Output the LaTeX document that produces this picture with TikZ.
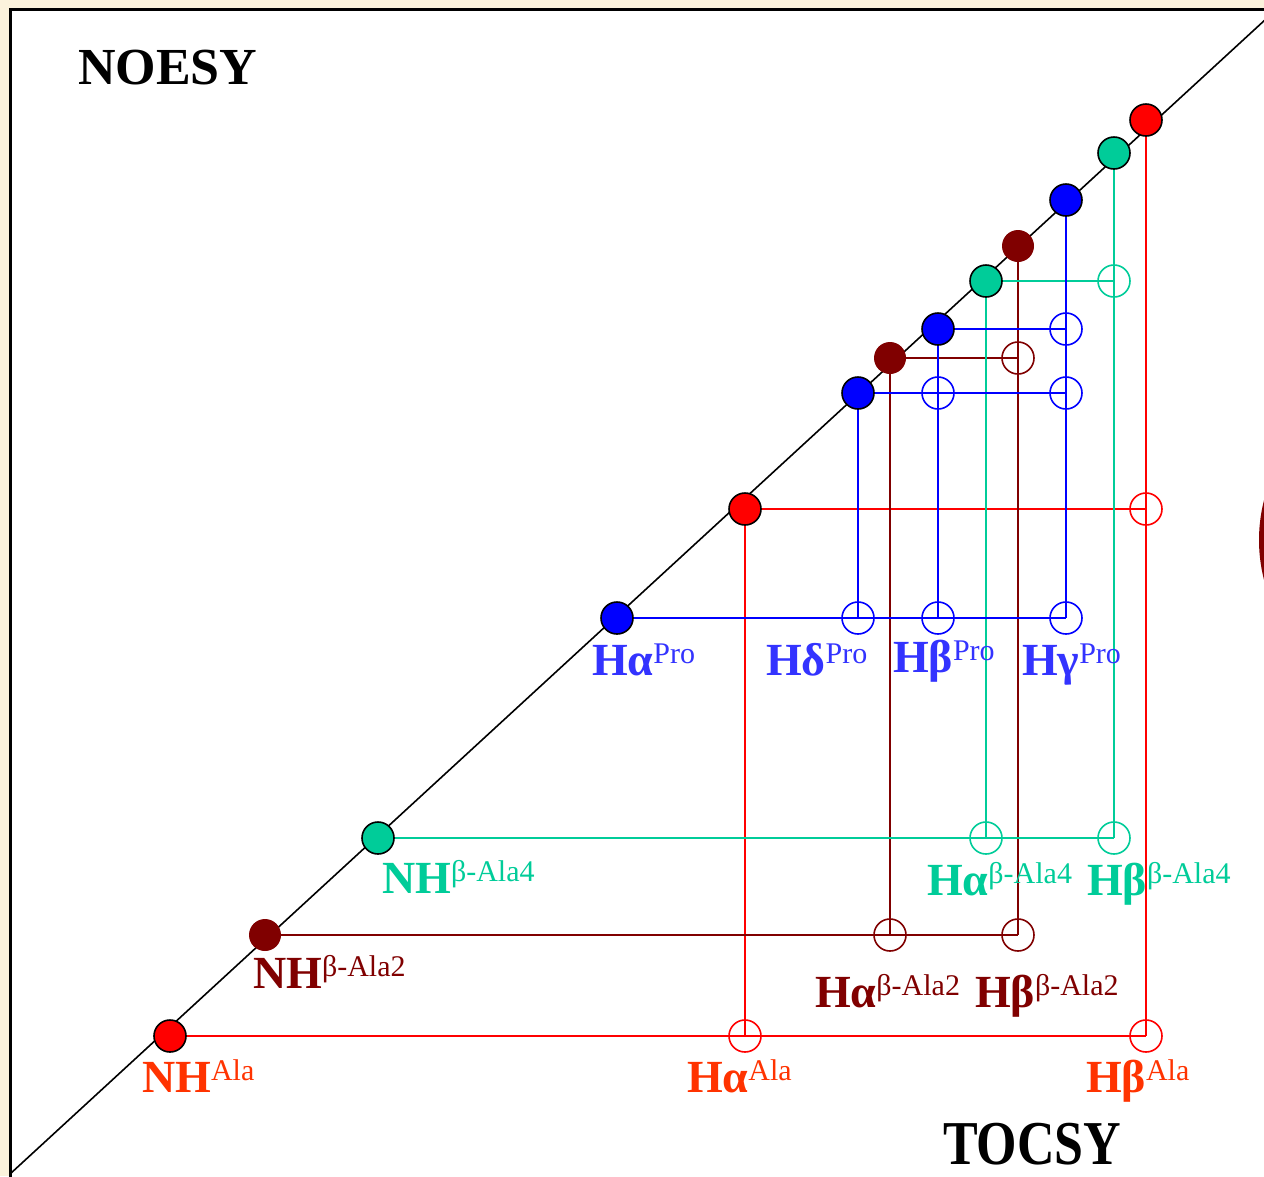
\documentclass[tikz,border=0pt]{standalone}
\usepackage{fontspec}
\setmainfont{Liberation Serif}
\definecolor{cream}{RGB}{251,242,220}
\definecolor{rline}{RGB}{255,0,0}
\definecolor{rlab}{RGB}{255,51,0}
\definecolor{dkred}{RGB}{128,0,0}
\definecolor{grn}{RGB}{0,204,153}
\definecolor{bline}{RGB}{0,0,255}
\definecolor{blab}{RGB}{51,51,255}
\newcommand\lbl[2]{{\fontsize{46}{46}\selectfont\bfseries #1}\raisebox{12pt}{\fontsize{30}{30}\selectfont #2}}
\tikzset{
  dotb/.style={circle,draw=black,line width=1.6pt,minimum size=32pt,inner sep=0pt},
  dotn/.style={circle,minimum size=32pt,inner sep=0pt},
  peak/.style={circle,line width=1.6pt,minimum size=32pt,inner sep=0pt},
  conn/.style={line width=1.8pt},
  lab/.style={anchor=base west,inner sep=0pt,outer sep=0pt},
  title/.style={anchor=base west,inner sep=0pt,font=\fontsize{52}{52}\selectfont\bfseries}
}
\begin{document}
\begin{tikzpicture}[x=1pt,y=-1pt]
\useasboundingbox (0,0) rectangle (1264,1176);
\clip (0,0) rectangle (1264,1176);
\fill[cream] (0,0) rectangle (1264,1176);
\draw[line width=3pt,fill=white] (10,9) rectangle (1320,1230);
\fill[dkred] (1419,540) circle (160);
% diagonal
\coordinate (dl) at (10,1174);
\coordinate (dr) at (1266,19);
\draw[line width=1.6pt] (dl) -- (dr);
% dot positions
\coordinate (nhA) at (170,1036);
\coordinate (nh2) at (265,935);
\coordinate (nh4) at (378,838);
\coordinate (haP) at (617,618);
\coordinate (haA) at (745,509);
\coordinate (hdP) at (858,393);
\coordinate (ha2) at (890,358);
\coordinate (hbP) at (938,329);
\coordinate (ha4) at (986,281);
\coordinate (hb2) at (1018,246);
\coordinate (hgP) at (1066,200);
\coordinate (hb4) at (1114,153);
\coordinate (hbA) at (1146,120);
% peak positions
\coordinate (pA1) at (745,1036);
\coordinate (pA2) at (1146,1036);
\coordinate (pA3) at (1146,509);
\coordinate (p21) at (890,935);
\coordinate (p22) at (1018,935);
\coordinate (p23) at (1018,358);
\coordinate (p41) at (986,838);
\coordinate (p42) at (1114,838);
\coordinate (p43) at (1114,281);
\coordinate (pP1) at (858,618);
\coordinate (pP2) at (938,618);
\coordinate (pP3) at (1066,618);
\coordinate (pP4) at (938,393);
\coordinate (pP5) at (1066,393);
\coordinate (pP6) at (1066,329);
% connectors
\draw[conn,rline] (nhA) -- (pA2) (haA) -- (pA1) (haA) -- (pA3) (hbA) -- (pA2);
\draw[conn,dkred] (nh2) -- (p22) (ha2) -- (p21) (ha2) -- (p23) (hb2) -- (p22);
\draw[conn,grn] (nh4) -- (p42) (ha4) -- (p41) (ha4) -- (p43) (hb4) -- (p42);
\draw[conn,bline] (haP) -- (pP3) (hdP) -- (pP1) (hdP) -- (pP5) (hbP) -- (pP2) (hbP) -- (pP6) (hgP) -- (pP3);
% peaks
\foreach \p in {pA1,pA2,pA3} \node[peak,draw=rline] (n\p) at (\p) {};
\foreach \p in {p21,p22,p23} \node[peak,draw=dkred] (n\p) at (\p) {};
\foreach \p in {p41,p42,p43} \node[peak,draw=grn] (n\p) at (\p) {};
\foreach \p in {pP1,pP2,pP3,pP4,pP5,pP6} \node[peak,draw=bline] (n\p) at (\p) {};
% dots
\foreach \p in {nhA,haA,hbA} \node[dotb,fill=rline] (n\p) at (\p) {};
\foreach \p in {nh2,ha2,hb2} \node[dotn,fill=dkred] (n\p) at (\p) {};
\foreach \p in {nh4,ha4,hb4} \node[dotb,fill=grn] (n\p) at (\p) {};
\foreach \p in {haP,hdP,hbP,hgP} \node[dotb,fill=bline] (n\p) at (\p) {};
% labels
\node[lab,text=rlab] (lnhA) at (142,1092) {\lbl{NH}{Ala}};
\node[lab,text=rlab] (lhaA) at (687,1092) {\lbl{Hα}{Ala}};
\node[lab,text=rlab] (lhbA) at (1086,1092) {\lbl{Hβ}{Ala}};
\node[lab,text=dkred] (lnh2) at (253,988) {\lbl{NH}{β-Ala2}};
\node[lab,text=dkred] (lha2) at (815,1007) {\lbl{Hα}{β-Ala2}};
\node[lab,text=dkred] (lhb2) at (975,1007) {\lbl{Hβ}{β-Ala2}};
\node[lab,text=grn] (lnh4) at (382,893) {\lbl{NH}{β-Ala4}};
\node[lab,text=grn] (lha4) at (927,895) {\lbl{Hα}{β-Ala4}};
\node[lab,text=grn] (lhb4) at (1087,895) {\lbl{Hβ}{β-Ala4}};
\node[lab,text=blab] (lhaP) at (592,675) {\lbl{Hα}{Pro}};
\node[lab,text=blab] (lhdP) at (766,675) {\lbl{Hδ}{Pro}};
\node[lab,text=blab] (lhbP) at (893,672) {\lbl{Hβ}{Pro}};
\node[lab,text=blab] (lhgP) at (1022,675) {\lbl{Hγ}{Pro}};
\node[title] (noesy) at (78,84) {NOESY};
\node[title,yscale=1.2] (tocsy) at (943,1164) {TOCSY};
\end{tikzpicture}
\end{document}
